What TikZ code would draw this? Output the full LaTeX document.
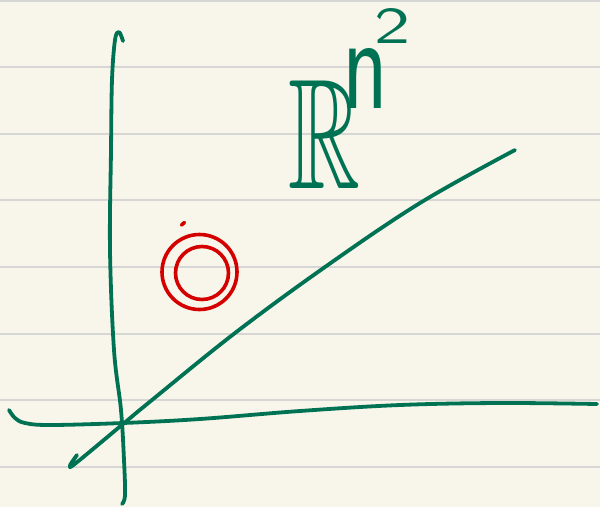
\documentclass[tikz,border=0pt]{standalone}
\usepackage{amssymb}
\usepackage{graphicx}
\definecolor{paper}{RGB}{248,246,234}
\definecolor{rule}{RGB}{214,214,212}
\definecolor{ink}{RGB}{0,114,84}
\definecolor{redink}{RGB}{212,0,0}
\tikzset{
  ruleline/.style={draw=rule, line width=2pt},
  pen/.style={draw=ink, line width=3.8pt, line cap=round, line join=round},
  redpen/.style={draw=redink, line width=3.6pt, line cap=round},
  label/.style={text=ink, inner sep=0pt, outer sep=0pt}
}
\begin{document}
\begin{tikzpicture}[x=1pt,y=-1pt]
\fill[paper] (0,0) rectangle (600,507);
\useasboundingbox (0,0) rectangle (600,507);
\foreach \yy in {1,67,134,200,267,334,400,467}
  \draw[ruleline] (0,\yy) -- (600,\yy);
% vertical axis
\draw[pen] plot[smooth, tension=0.6] coordinates {(123,41) (119,32) (115,40) (112,80) (111,150) (110,250) (114,350) (121,410) (124,460) (125,495) (122,504)};
% horizontal axis
\draw[pen] plot[smooth, tension=0.6] coordinates {(9,410) (15,418) (25,423) (50,425) (123,423) (200,419) (300,411) (400,405) (500,403) (597,404)};
% diagonal line
\draw[pen] plot[smooth, tension=0.6] coordinates {(77,455) (72,462) (70,466) (76,463) (123,424) (152,400) (235,333) (325,267) (420,203) (515,150)};
% red circles
\draw[redpen] (199.5,272) circle[radius=37.5];
\draw[redpen] (202,273) circle[radius=26.5];
\draw[redpen] (181.5,225) -- (184.5,222.5);
% label
\node[label, anchor=base west] (Rn2) at (288,188) {\resizebox{72pt}{108pt}{$\mathbb{R}$}\hspace{-18pt}\raisebox{80pt}{\resizebox{46pt}{60pt}{\textsf{n}}}\hspace{-14pt}\raisebox{145pt}{\resizebox{36pt}{35pt}{\textsf{2}}}};
\end{tikzpicture}
\end{document}
